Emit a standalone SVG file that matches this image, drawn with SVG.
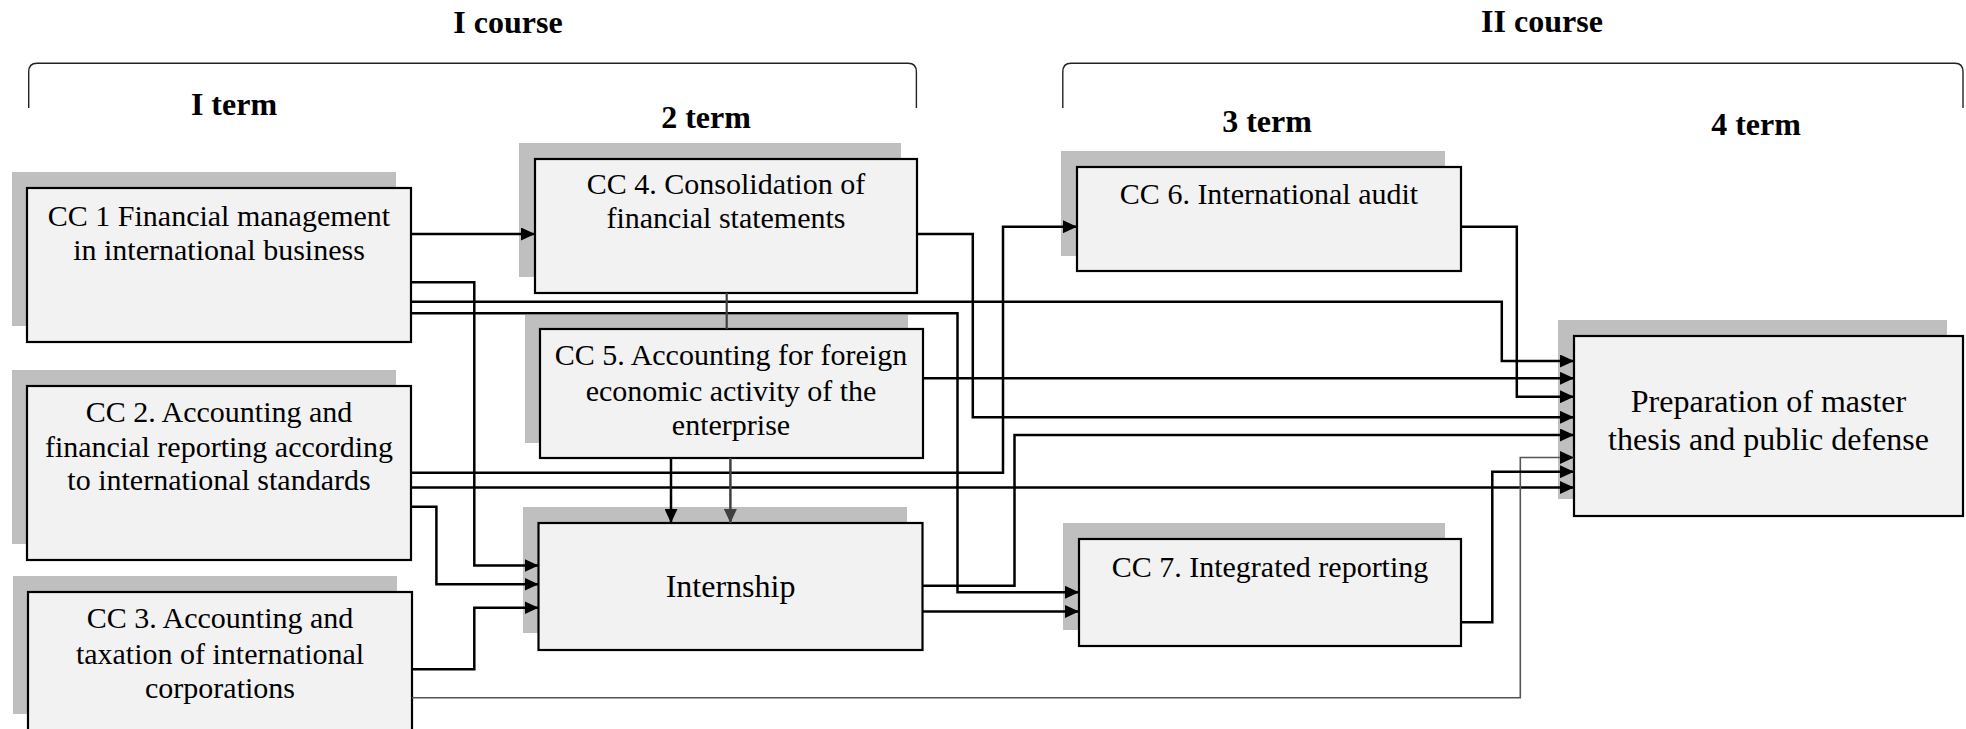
<svg xmlns="http://www.w3.org/2000/svg" width="1966" height="729" viewBox="0 0 1966 729">
<style>
.shadow{fill:#bfbfbf;stroke:none}
.box{fill:#f2f2f2;stroke:#000;stroke-width:2.2}
.t{font-family:"Liberation Serif","Times New Roman",serif;font-size:30px;fill:#000;text-anchor:middle}
.tb{font-family:"Liberation Serif","Times New Roman",serif;font-size:32px;font-weight:bold;fill:#000;text-anchor:middle}
.big{font-size:32px}
.c{fill:none;stroke:#000;stroke-width:2.5;marker-end:url(#arr)}
.cn{fill:none;stroke:#000;stroke-width:2.5}
.g{fill:none;stroke:#404040;stroke-width:2.5;marker-end:url(#arrg)}
.thin{fill:none;stroke:#555;stroke-width:1.6;marker-end:url(#arr)}
.br{fill:none;stroke:#222;stroke-width:1.4}
</style>
<defs>
<marker id="arr" viewBox="0 0 14 13" refX="14" refY="6.5" markerWidth="14" markerHeight="13" markerUnits="userSpaceOnUse" orient="auto"><path d="M0,0 L14,6.5 L0,13 Z" fill="#000"/></marker>
<marker id="arrg" viewBox="0 0 14 13" refX="14" refY="6.5" markerWidth="14" markerHeight="13" markerUnits="userSpaceOnUse" orient="auto"><path d="M0,0 L14,6.5 L0,13 Z" fill="#404040"/></marker>
</defs>
<rect width="1966" height="729" fill="#fff"/>

<g id="headers">
<text class="tb" x="508" y="33">I course</text>
<text class="tb" x="1542" y="32">II course</text>
<path class="br" d="M28.7,108 V72 Q28.7,63.3 37,63.3 H908 Q916.4,63.3 916.4,72 V108"/>
<path class="br" d="M1062.8,108 V72 Q1062.8,63.3 1071,63.3 H1955 Q1963,63.3 1963,72 V108"/>
<text class="tb" x="234" y="115">I term</text>
<text class="tb" x="706" y="128">2 term</text>
<text class="tb" x="1267" y="132">3 term</text>
<text class="tb" x="1756" y="135">4 term</text>
</g>

<g id="cc1">
<rect class="shadow" x="12" y="172" width="384" height="154"/>
<rect class="box" x="27" y="188" width="384" height="154"/>
<text class="t" x="219" y="226">CC 1 Financial management</text>
<text class="t" x="219" y="260">in international business</text>
</g>
<g id="cc2">
<rect class="shadow" x="12" y="370" width="384" height="174"/>
<rect class="box" x="27" y="386" width="384" height="174"/>
<text class="t" x="219" y="422">CC 2. Accounting and</text>
<text class="t" x="219" y="457">financial reporting according</text>
<text class="t" x="219" y="490">to international standards</text>
</g>
<g id="cc3">
<rect class="shadow" x="13" y="576" width="384" height="138"/>
<rect class="box" x="28" y="592" width="384" height="140"/>
<text class="t" x="220" y="628">CC 3. Accounting and</text>
<text class="t" x="220" y="664">taxation of international</text>
<text class="t" x="220" y="698">corporations</text>
</g>
<g id="cc4">
<rect class="shadow" x="519" y="143" width="382" height="134"/>
<rect class="box" x="535" y="159" width="382" height="134"/>
<text class="t" x="726" y="194">CC 4. Consolidation of</text>
<text class="t" x="726" y="228">financial statements</text>
</g>
<g id="cc5">
<rect class="shadow" x="525" y="315" width="383" height="128"/>
<rect class="box" x="540" y="329" width="383" height="129"/>
<text class="t" x="731" y="365">CC 5. Accounting for foreign</text>
<text class="t" x="731" y="401">economic activity of the</text>
<text class="t" x="731" y="435">enterprise</text>
</g>
<g id="internship">
<rect class="shadow" x="523" y="507" width="384" height="126"/>
<rect class="box" x="538.5" y="523" width="384" height="127"/>
<text class="t big" x="730.5" y="597">Internship</text>
</g>
<g id="cc6">
<rect class="shadow" x="1061" y="151" width="384" height="105"/>
<rect class="box" x="1077" y="167" width="384" height="104"/>
<text class="t" x="1269" y="204">CC 6. International audit</text>
</g>
<g id="cc7">
<rect class="shadow" x="1063" y="523" width="382" height="107"/>
<rect class="box" x="1079" y="539" width="382" height="107"/>
<text class="t" x="1270" y="577">CC 7. Integrated reporting</text>
</g>
<g id="thesis">
<rect class="shadow" x="1558" y="320" width="389" height="179"/>
<rect class="box" x="1574" y="336" width="389" height="180"/>
<text class="t big" x="1768.5" y="412">Preparation of master</text>
<text class="t big" x="1768.5" y="450">thesis and public defense</text>
</g>

<g id="connectors">
<path class="c" d="M411,234 H535"/>
<path class="c" d="M411,282.3 H474.3 V565.5 H538.5"/>
<path class="c" d="M411,301.7 H1501.8 V361 H1574"/>
<path class="c" d="M411,313.3 H957.5 V592.3 H1079"/>
<path class="c" d="M411,472.7 H1003 V226.7 H1077"/>
<path class="c" d="M411,487.5 H1574"/>
<path class="c" d="M411,506.7 H436.4 V584.3 H538.5"/>
<path class="c" d="M412,669.3 H474.3 V607.7 H538.5"/>
<path class="thin" d="M412,697.7 H1520.3 V457.5 H1574"/>
<path class="c" d="M917,234 H972.8 V417.3 H1574"/>
<path class="cn" style="stroke:#404040;stroke-width:2.2" d="M726.7,293 V329"/>
<path class="c" d="M923,378.3 H1574"/>
<path class="c" d="M671,458 V523"/>
<path class="g" d="M730.4,458 V523"/>
<path class="c" d="M922.5,585.7 H1014.5 V435 H1574"/>
<path class="c" d="M922.5,611.5 H1079"/>
<path class="c" d="M1461,226.7 H1516.8 V396.7 H1574"/>
<path class="c" d="M1461,622.3 H1492.3 V471.7 H1574"/>
</g>
</svg>
